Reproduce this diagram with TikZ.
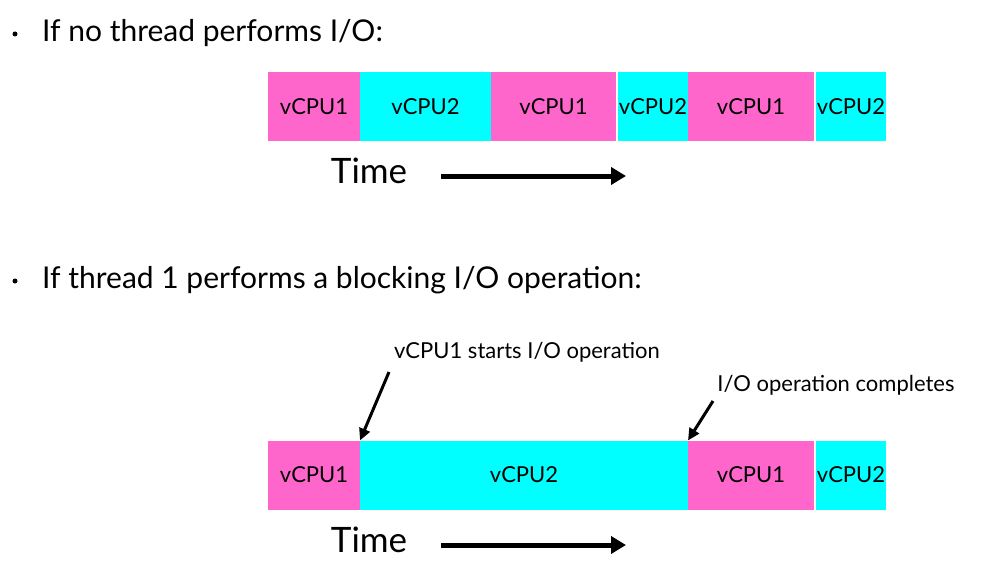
\documentclass[tikz,border=0pt]{standalone}
\usepackage{fontspec}
\setmainfont{Lato}
\usetikzlibrary{positioning,arrows.meta}

\definecolor{vpink}{HTML}{FF66CC}
\definecolor{vcyan}{HTML}{00FFFF}

\tikzset{
  slot/.style={minimum height=69pt,inner sep=0pt,outer sep=0pt,
    font=\fontsize{22}{26}\selectfont},
  slotone/.style={slot,fill=vpink},
  slottwo/.style={slot,fill=vcyan},
  bullet/.style={font=\fontsize{30}{34}\selectfont,anchor=west,inner sep=0pt},
  dot/.style={circle,fill=black,minimum size=5pt,inner sep=0pt},
  timelbl/.style={font=\fontsize{35}{40}\selectfont,inner sep=0pt},
  timearrow/.style={line width=5pt,-{Triangle[length=15pt,width=17pt]}},
  note/.style={font=\fontsize{22}{26}\selectfont,inner sep=0pt},
  notearrow/.style={line width=3pt,-{Triangle[length=12pt,width=11pt]}}
}

\begin{document}
\begin{tikzpicture}[x=1pt,y=-1pt]
\useasboundingbox (0,0) rectangle (981,567);

\node[dot] (d1) at (15,34) {};
\node[bullet] (h1) at (42,33) {If no thread performs I/O:};

% first time line
\node[slotone,minimum width=92pt,anchor=west] (a1) at (268,106.5) {vCPU1};
\node[slottwo,minimum width=131pt,right=0pt of a1] (a2) {vCPU2};
\node[slotone,minimum width=125pt,right=0pt of a2] (a3) {vCPU1};
\node[slottwo,minimum width=70pt,right=2pt of a3] (a4) {vCPU2};
\node[slotone,minimum width=126pt,right=0pt of a4] (a5) {vCPU1};
\node[slottwo,minimum width=70pt,right=2pt of a5] (a6) {vCPU2};

\node[timelbl] (t1) at (369,171) {Time};
\coordinate (t1s) at (441,176);
\coordinate (t1e) at (626,176);
\draw[timearrow] (t1s) -- (t1e);

\node[dot] (d2) at (15,281) {};
\node[bullet] (h2) at (42,280) {If thread 1 performs a blocking I/O operation:};

% second time line
\node[slotone,minimum width=92pt,anchor=west] (b1) at (268,475) {vCPU1};
\node[slottwo,minimum width=328pt,right=0pt of b1] (b2) {vCPU2};
\node[slotone,minimum width=126pt,right=0pt of b2] (b3) {vCPU1};
\node[slottwo,minimum width=70pt,right=2pt of b3] (b4) {vCPU2};

\node[note] (n1) at (527,352) {vCPU1 starts I/O operation};
\node[note] (n2) at (836,385) {I/O operation completes};
\coordinate (n1s) at (389,372);
\coordinate (n2s) at (713,401);
\draw[notearrow] (n1s) -- (b2.north west);
\draw[notearrow] (n2s) -- (b3.north west);

\node[timelbl] (t2) at (369,540) {Time};
\coordinate (t2s) at (441,545);
\coordinate (t2e) at (626,545);
\draw[timearrow] (t2s) -- (t2e);

\end{tikzpicture}
\end{document}
